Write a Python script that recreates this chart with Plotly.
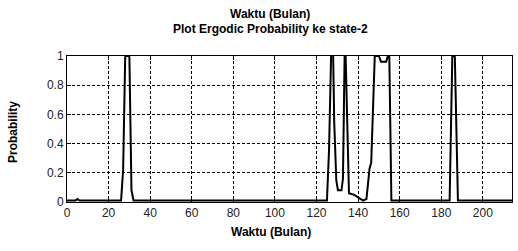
import plotly.graph_objects as go

# Data (month, probability)
months = [0, 4, 5, 6, 26, 27, 28, 30, 31, 32,
          125, 126, 127, 128, 128.5, 129.5, 130.3, 132, 132.7, 133.2, 133.5, 134,
          135.6, 138, 140, 142.4, 144, 144.8, 145.5, 146.3, 147.1, 148, 150, 151,
          153.5, 154.3, 155, 156, 184, 185, 185.3, 186.5, 188, 214]
prob = [0.01, 0.01, 0.02, 0.01, 0.01, 0.22, 1.0, 1.0, 0.08, 0.01,
        0.01, 0.35, 1.0, 1.0, 0.55, 0.15, 0.08, 0.08, 0.16, 0.55, 1.0, 1.0,
        0.06, 0.05, 0.03, 0.01, 0.02, 0.16, 0.23, 0.27, 0.66, 1.0, 1.0, 0.96,
        0.96, 1.0, 1.0, 0.01, 0.01, 0.9, 1.0, 1.0, 0.01, 0.01]

x_ticks = [0, 20, 40, 60, 80, 100, 120, 140, 160, 180, 200]
y_ticks = [0, 0.2, 0.4, 0.6, 0.8, 1]
y_tick_text = ["0", "0.2", "0.4", "0.6", "0.8", "1"]

title_lines = ["Waktu (Bulan)", "Plot Ergodic Probability ke state-2"]
x_label = "Waktu (Bulan)"
y_label = "Probability"

FONT = "Liberation Sans, Arial, sans-serif"

fig = go.Figure()
fig.add_trace(go.Scatter(x=months, y=prob, mode="lines",
                         line=dict(color="black", width=2), showlegend=False))

axis_common = dict(
    showline=True, linecolor="black", linewidth=1, mirror="allticks",
    ticks="inside", ticklen=4, tickcolor="black",
    showgrid=True, gridcolor="black", gridwidth=1, griddash="3px,2px",
    zeroline=False, tickfont=dict(family=FONT, size=12, color="#222"),
)

# plot-area pixel box
pl, pr, pt, pb = 67, 518 - 6, 56, 251 - 49

fig.update_layout(
    width=518, height=251,
    margin=dict(l=pl, r=518 - pr, t=pt, b=251 - pb, autoexpand=False),
    paper_bgcolor="white", plot_bgcolor="white",
    xaxis=dict(range=[0, 214], tickvals=x_ticks, automargin=False, **axis_common),
    yaxis=dict(range=[0, 1], tickvals=y_ticks, ticktext=y_tick_text, automargin=False,
               **axis_common),
)

ann_specs = [
    ("<b>%s</b>" % title_lines[0], 270, 14, 0),
    ("<b>%s</b>" % title_lines[1], 270, 29, 0),
    ("<b>%s</b>" % x_label, 271, 232, 0),
    ("<b>%s</b>" % y_label, 13, 132, -90),
]
for text, px, py, ang in ann_specs:
    fig.add_annotation(text=text, xref="paper", yref="paper",
                       x=(px - pl) / (pr - pl), y=(pb - py) / (pb - pt),
                       xanchor="center", yanchor="middle", showarrow=False,
                       textangle=ang, font=dict(family=FONT, size=12, color="black"))

fig.write_html("out.html", config={"displayModeBar": False},
               post_script="document.body.style.margin='0';document.body.style.overflow='hidden';")
